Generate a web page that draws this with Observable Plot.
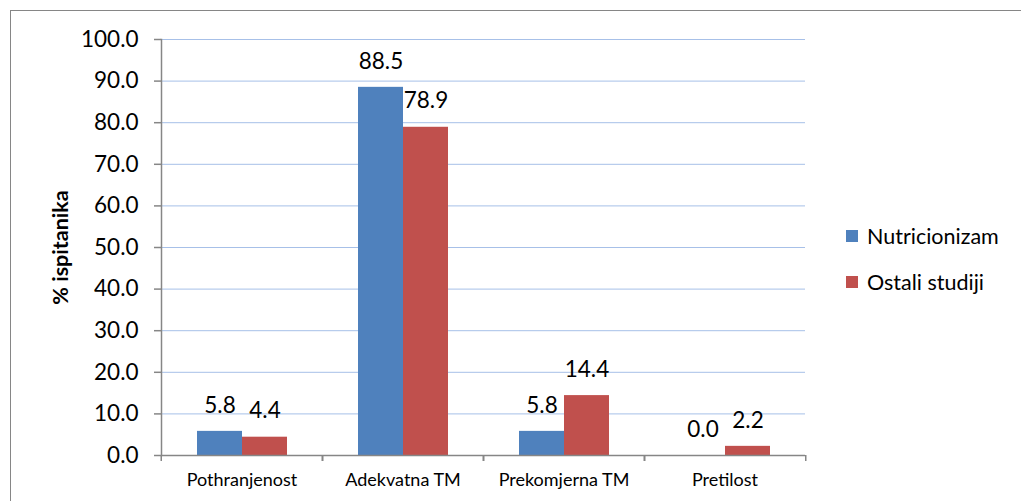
<!DOCTYPE html>
<html>
<head>
<meta charset="utf-8">
<script src="https://cdn.jsdelivr.net/npm/d3@7"></script>
<script src="https://cdn.jsdelivr.net/npm/@observablehq/plot@0.6"></script>
<style>
  html, body { margin: 0; padding: 0; background: #fff; overflow: hidden; }
  #wrap { position: relative; width: 1021px; height: 501px; overflow: hidden; font-family: Lato, "Open Sans", sans-serif; }
  #border { position: absolute; left: 10px; top: 10px; width: 1100px; height: 600px; border: 1.5px solid #868686; box-sizing: border-box; pointer-events: none; }
  #legend { position: absolute; left: 846px; top: 221px; font-size: 21.5px; color: #000; }
  .item { display: flex; align-items: center; height: 30px; margin-bottom: 16px; }
  .sw { width: 12px; height: 12px; margin-right: 9px; }
</style>
</head>
<body>
<div id="wrap">
  <div id="chart"></div>
  <div id="border"></div>
  <div id="legend"></div>
</div>
<script>
const categories = ["Pothranjenost", "Adekvatna TM", "Prekomjerna TM", "Pretilost"];
const seriesNames = ["Nutricionizam", "Ostali studiji"];
const nutricionizam = [5.8, 88.5, 5.8, 0.0];
const ostaliStudiji = [4.4, 78.9, 14.4, 2.2];
const yTicks = [0, 10, 20, 30, 40, 50, 60, 70, 80, 90, 100];
const gridTicks = [10, 20, 30, 40, 50, 60, 70, 80, 90, 100];
const colors = ["#4f81bd", "#c0504d"];

const rows = [];
categories.forEach((c, i) => {
  rows.push({category: c, series: seriesNames[0], value: nutricionizam[i]});
  rows.push({category: c, series: seriesNames[1], value: ostaliStudiji[i]});
});

const W = 1021, H = 501, ML = 160, MR = 215, MT = 39, MB = 46;
const step = (W - ML - MR) / categories.length;
const gray = "#868686";

const plot = Plot.plot({
  width: W, height: H,
  marginLeft: ML, marginRight: MR, marginTop: MT, marginBottom: MB,
  style: {fontFamily: "Lato, 'Open Sans', sans-serif", background: "#fff", color: "#000"},
  fx: {domain: categories, padding: 0, label: null},
  x: {domain: seriesNames, paddingInner: 0, paddingOuter: 0.76, axis: null},
  y: {domain: [0, 100], label: null},
  color: {domain: seriesNames, range: colors},
  marks: [
    Plot.ruleY(gridTicks, {stroke: "#a7c0e8", strokeWidth: 1}),
    Plot.barY(rows, {fx: "category", x: "series", y: "value", fill: "series"}),
    Plot.ruleY([0], {stroke: gray, strokeWidth: 1.5}),
    Plot.frame({anchor: "left", facetAnchor: "left", stroke: gray, strokeWidth: 1.5}),
    Plot.text(rows, {fx: "category", x: "series", y: "value", text: d => d.value.toFixed(1), dy: -26, fontSize: 22.5, fill: "#000"}),
    Plot.axisY({ticks: yTicks, tickFormat: d => d.toFixed(1), tickSize: 7, tickPadding: 16, fontSize: 22.5, stroke: gray, fill: "#000", strokeWidth: 1.5, label: null}),
    Plot.axisFx({anchor: "bottom", tickSize: 0, tickPadding: 18, fontSize: 18, fill: "#000", label: null}),
    Plot.axisFx({anchor: "bottom", tickSize: 6, tickFormat: () => "", dx: -step / 2, stroke: gray, strokeWidth: 1.5, label: null}),
    Plot.axisFx({anchor: "bottom", tickSize: 6, tickFormat: () => "", dx: step / 2, stroke: gray, strokeWidth: 1.5, label: null}),
    Plot.text(["% ispitanika"], {frameAnchor: "left", facetAnchor: "left", textAnchor: "middle", rotate: -90, dx: -100, fontSize: 21.5, fontWeight: "bold", fill: "#000"})
  ]
});
document.getElementById("chart").appendChild(plot);

const legend = document.getElementById("legend");
seriesNames.forEach((s, i) => {
  const item = document.createElement("div");
  item.className = "item";
  const sw = document.createElement("div");
  sw.className = "sw";
  sw.style.background = colors[i];
  const t = document.createElement("span");
  t.textContent = s;
  item.appendChild(sw);
  item.appendChild(t);
  legend.appendChild(item);
});
</script>
</body>
</html>
